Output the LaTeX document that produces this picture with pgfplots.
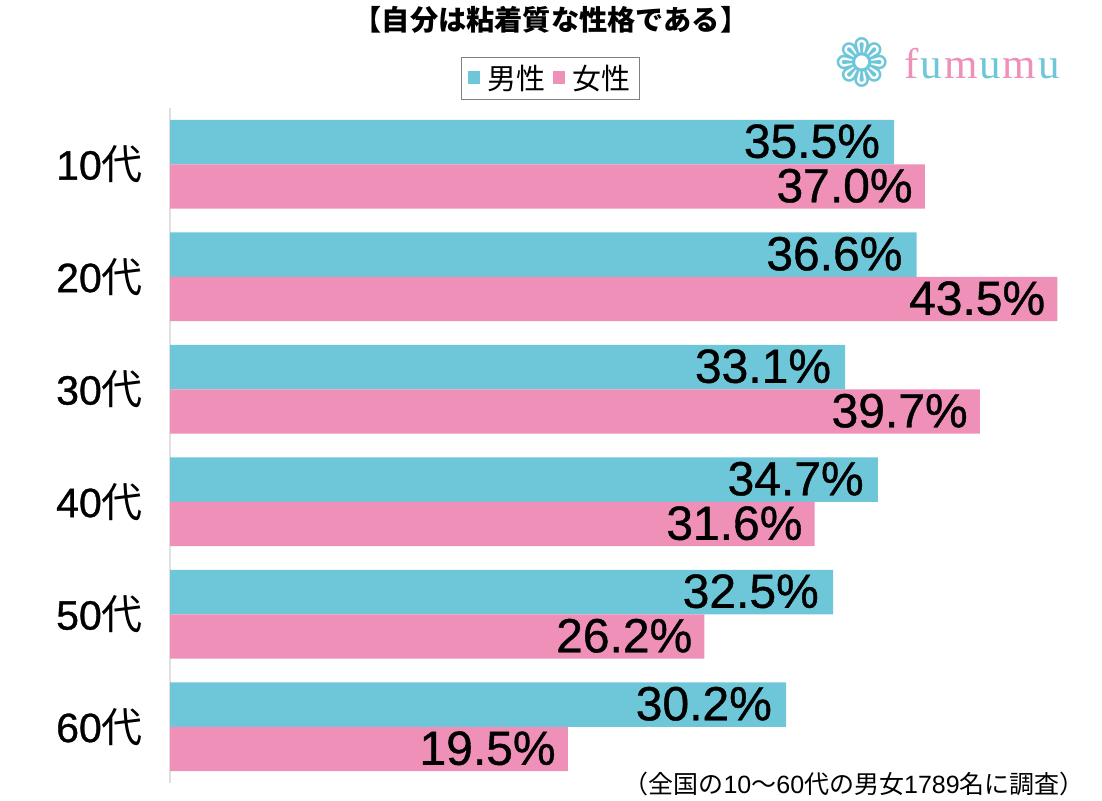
\documentclass[border=0pt]{standalone}
\usepackage{fontspec}
\setmainfont{Noto Sans CJK JP}
\newfontfamily\lat{Liberation Sans}
\newfontfamily\latb[FakeBold=0.8]{Liberation Sans}
\newfontfamily\logofont{Liberation Serif}
\newfontfamily\symfont{DejaVu Sans}
\usepackage{pgfplots}
\pgfplotsset{compat=1.18}
\definecolor{male}{HTML}{6EC6D9}
\definecolor{female}{HTML}{EE90B8}
\begin{document}
\begin{tikzpicture}[x=1pt,y=1pt]
\useasboundingbox (0,-800) rectangle (1102,0);
\begin{axis}[
  at={(170pt,-783pt)}, anchor=south west,
  scale only axis, width=918pt, height=675pt,
  xmin=0, xmax=45, ymin=-0.5, ymax=5.5, y dir=reverse,
  axis x line=none, axis y line*=left,
  y axis line style={draw=black!12, line width=1.2pt},
  ytick={0,1,2,3,4,5},
  yticklabels={{\latb 10}代,{\latb 20}代,{\latb 30}代,{\latb 40}代,{\latb 50}代,{\latb 60}代},
  major tick length=0pt,
  yticklabel style={font=\fontsize{41}{41}\selectfont, inner sep=0pt, xshift=-27pt},
  clip=false,
  legend style={at={(0.317,1.0756)}, anchor=north west, draw=black!50,
    font=\fontsize{29}{29}\selectfont, legend columns=2, inner xsep=7pt, inner ysep=6pt,
    /tikz/every odd column/.append style={column sep=5pt},
    /tikz/every even column/.append style={column sep=6pt}},
  legend cell align=left,
]
\addplot[xbar, bar width=0.395, bar shift=-0.1975, fill=male, draw=none,
  point meta=explicit symbolic, nodes near coords,
  every node near coord/.append style={anchor=east, font=\latb\fontsize{48}{48}\selectfont, inner xsep=14pt, inner ysep=0pt, yshift=23pt, text=black},
  legend image code/.code={\fill[male] (0pt,-6pt) rectangle (12pt,7pt);}]
  coordinates {(35.5,0)[35.5\%] (36.6,1)[36.6\%] (33.1,2)[33.1\%] (34.7,3)[34.7\%] (32.5,4)[32.5\%] (30.2,5)[30.2\%]};
\addlegendentry{男性}
\addplot[xbar, bar width=0.395, bar shift=0.1975, fill=female, draw=none,
  point meta=explicit symbolic, nodes near coords,
  every node near coord/.append style={anchor=east, font=\latb\fontsize{48}{48}\selectfont, inner xsep=12pt, inner ysep=0pt, yshift=-21.5pt, text=black},
  legend image code/.code={\fill[female] (0pt,-6pt) rectangle (12pt,7pt);}]
  coordinates {(37.0,0)[37.0\%] (43.5,1)[43.5\%] (39.7,2)[39.7\%] (31.6,3)[31.6\%] (26.2,4)[26.2\%] (19.5,5)[19.5\%]};
\addlegendentry{女性}
\end{axis}
\node[font=\fontsize{28.2}{28.2}\selectfont\bfseries] at (551,-20) {【自分は粘着質な性格である】};
\node[anchor=east, font=\fontsize{25}{25}\selectfont, inner sep=0pt] at (1085,-784) {（全国の{\lat 10}～{\lat 60}代の男女{\lat 1789}名に調査）};
\node[text=male, font=\symfont\fontsize{66}{66}\selectfont, inner sep=0pt] at (862,-62) {❁};
\node[anchor=west, font=\logofont\fontsize{43}{43}\selectfont, inner sep=0pt] at (904,-64)
  {\textcolor{female}{f}\kern2pt\textcolor{male}{u}\kern2pt\textcolor{female}{m}\kern2pt\textcolor{male}{u}\kern2pt\textcolor{female}{m}\kern2pt\textcolor{male}{u}};
\end{tikzpicture}
\end{document}
